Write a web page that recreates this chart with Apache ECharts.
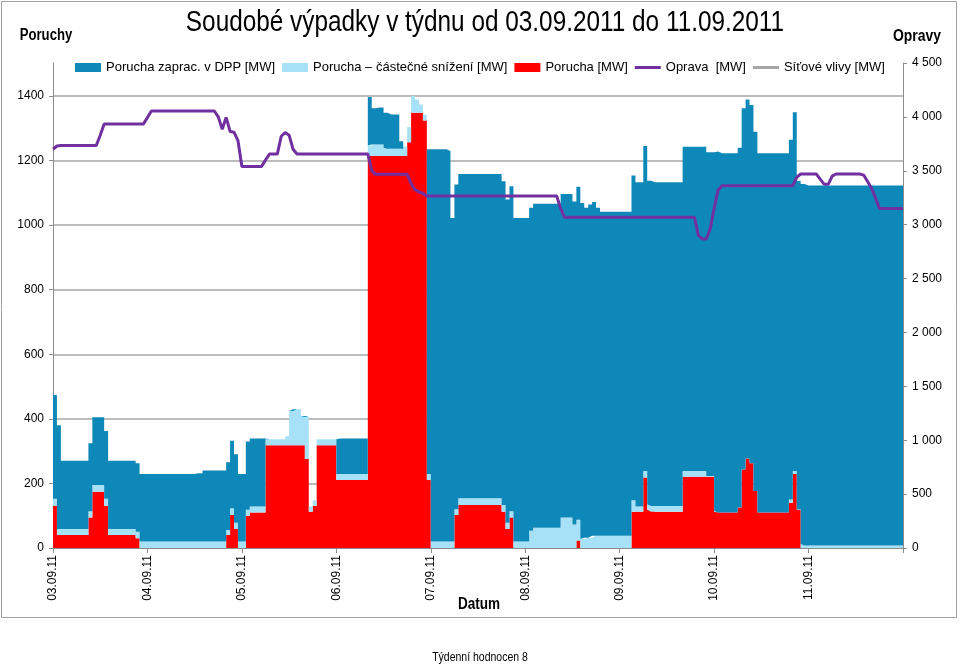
<!DOCTYPE html>
<html>
<head>
<meta charset="utf-8">
<script src="https://cdn.jsdelivr.net/npm/echarts@6/dist/echarts.min.js"></script>
<style>html,body{margin:0;padding:0;background:#fff}#c{width:960px;height:664px}</style>
</head>
<body>
<div id="c"></div>
<script>
// Tick labels (one per day)
const dayLabels = ['03.09.11','04.09.11','05.09.11','06.09.11','07.09.11','08.09.11','09.09.11','10.09.11','11.09.11'];

// Hourly values [MW], 9 days x 24 hours
const porucha = [ // red
131,40,40,40,40,40,40,40,40,94,174,174,174,131,40,40,40,40,40,40,40,30,0,0,
0,0,0,0,0,0,0,0,0,0,0,0,0,0,0,0,0,0,0,0,40,102,59,0,
0,100,110,110,110,110,318,318,318,318,318,318,318,318,318,318,275,112,130,318,318,318,318,318,
210,210,210,210,210,210,210,210,1212,1212,1212,1212,1212,1212,1212,1212,1212,1212,1255,1346,1346,1346,1322,210,
0,0,0,0,0,0,102,133,133,133,133,133,133,133,133,133,133,133,112,59,94,0,0,0,
0,0,0,0,0,0,0,0,0,0,0,0,0,23,0,0,0,0,0,0,0,0,0,0,
0,0,0,112,112,112,218,118,112,112,112,112,112,112,112,112,220,220,220,220,220,220,220,220,
112,110,110,110,110,110,125,243,277,262,176,110,110,110,110,110,110,110,110,140,229,118,0,0,
0,0,0,0,0,0,0,0,0,0,0,0,0,0,0,0,0,0,0,0,0,0,0,0
];
const castecne = [ // light blue
21,19,19,19,19,19,19,19,19,20,21,21,21,21,19,19,19,19,19,19,19,20,20,20,
20,20,20,20,20,20,20,20,20,20,20,20,20,20,20,20,20,20,20,20,16,21,19,20,
20,18,18,18,18,18,18,18,18,18,18,28,106,111,111,90,130,16,18,18,18,18,18,18,
19,19,19,19,19,19,19,19,33,36,36,36,26,23,23,23,23,30,47,52,41,26,18,19,
20,20,20,20,20,20,18,21,21,21,21,21,21,21,21,21,21,21,21,19,20,20,20,20,
20,53,63,63,63,63,63,63,63,94,94,94,73,64,28,32,32,38,38,38,38,38,38,38,
38,38,38,36,16,16,20,17,18,18,18,18,18,18,18,18,18,18,18,18,18,18,3,3,
3,0,0,0,0,0,0,0,0,0,0,0,0,0,0,0,0,0,0,10,9,2,12,8,
8,8,8,8,8,8,8,8,8,8,8,8,8,8,8,8,8,8,8,8,8,8,8,8
];
const zaprac = [ // dark blue
321,321,211,211,211,211,211,211,211,210,209,209,209,210,211,211,211,211,211,211,211,212,209,209,
209,209,209,209,209,209,209,209,209,209,209,209,211,211,220,220,220,220,220,220,209,209,212,209,
209,211,211,211,211,211,0,0,0,0,0,0,0,0,0,0,0,0,0,0,0,0,0,0,
110,110,110,110,110,110,110,110,150,112,114,114,108,106,106,106,23,0,0,0,0,0,0,1004,
1213,1213,1213,1213,1208,1001,1004,1003,1003,1003,1003,1003,1003,1003,1003,1003,1003,1003,1001,1000,1005,1001,1001,1001,
1001,999,1002,1002,1002,1002,1002,1002,1002,1001,1001,1001,999,1030,1039,1020,1030,1032,1014,1002,1002,1002,1002,1002,
1002,1002,1002,1004,1003,1003,1005,1001,1001,1001,1001,1001,1001,1001,1001,1001,1003,1003,1003,1003,1003,1003,1001,1001,
1111,1111,1111,1111,1111,1111,1113,1117,1110,1108,1111,1111,1111,1111,1111,1111,1111,1111,1111,1113,1110,1015,1114,1113,
1113,1113,1113,1113,1113,1113,1113,1113,1113,1113,1113,1113,1113,1113,1113,1113,1113,1113,1113,1113,1113,1113,1113,1113
];
const sitove = [];
// Oprava (right axis), values at each hour mark 0..216
const oprava = [
3700,3730,3735,3735,3735,3735,3735,3735,3735,3735,3735,3735,3830,3935,3935,3935,3935,3935,3935,3935,3935,3935,3935,3935,
3995,4055,4055,4055,4055,4055,4055,4055,4055,4055,4055,4055,4055,4055,4055,4055,4055,4055,4000,3885,3995,3865,3858,3780,
3540,3540,3540,3540,3540,3540,3600,3655,3655,3655,3820,3855,3830,3700,3656,3656,3656,3656,3656,3656,3656,3656,3656,3656,
3656,3656,3656,3656,3656,3656,3656,3656,3656,3500,3467,3467,3467,3467,3467,3467,3467,3467,3467,3380,3322,3305,3290,3266,
3266,3266,3266,3266,3266,3266,3266,3266,3266,3266,3266,3266,3266,3266,3266,3266,3266,3266,3266,3266,3266,3266,3266,3266,
3266,3266,3266,3266,3266,3266,3266,3266,3266,3150,3068,3068,3068,3068,3068,3068,3068,3068,3068,3068,3068,3068,3068,3068,
3068,3068,3068,3068,3068,3068,3068,3068,3068,3068,3068,3068,3068,3068,3068,3068,3068,3068,3068,3068,2900,2867,2867,2960,
3150,3320,3362,3362,3362,3362,3362,3362,3362,3362,3362,3362,3362,3362,3362,3362,3362,3362,3362,3362,3362,3440,3470,3470,
3470,3470,3470,3420,3374,3374,3450,3470,3470,3470,3470,3470,3470,3470,3460,3400,3337,3250,3151,3151,3151,3151,3151,3151,
3151
];

const FONT = "'Liberation Sans', Arial, sans-serif";
const NARROW = 0.82; // horizontal squeeze to imitate a narrow face
const N = oprava.length; // 217 hour marks
const cats = [];
for (let i = 0; i < N; i++) cats.push(String(i));
const withEnd = a => a.concat([a[a.length - 1]]);

const chart = echarts.init(document.getElementById('c'));
const fmtThousands = v => v >= 1000 ? String(Math.floor(v / 1000)) + ' ' + String(v % 1000).padStart(3, '0') : String(v);
const lineIcon = 'path://M0,0 M26,9 M0,3 L26,3 L26,6 L0,6 Z';

const areaSeries = (name, data, color) => ({
  name, type: 'line', stack: 'poruchy', step: 'end', data: withEnd(data),
  xAxisIndex: 0, yAxisIndex: 0, symbol: 'none',
  lineStyle: { width: 0 }, itemStyle: { color }, areaStyle: { color, opacity: 1 }
});

const label = (text, x, y, font) => ({
  type: 'text', x, y, scaleX: NARROW, silent: true,
  style: { text, font, fill: '#000', align: 'center', verticalAlign: 'middle' }
});

chart.setOption({
  animation: false,
  backgroundColor: '#ffffff',
  textStyle: { fontFamily: FONT },
  legend: {
    left: 75, top: 61, padding: 0, itemWidth: 26, itemHeight: 9, itemGap: 7,
    textStyle: { fontFamily: FONT, fontSize: 13, color: '#000' },
    data: [
      { name: 'Porucha zaprac. v DPP [MW]', icon: 'rect' },
      { name: 'Porucha – částečné snížení [MW]', icon: 'rect' },
      { name: 'Porucha [MW]', icon: 'rect' },
      { name: 'Oprava  [MW]', icon: lineIcon },
      { name: 'Síťové vlivy [MW]', icon: lineIcon }
    ]
  },
  grid: [
    { left: 53, right: 57, top: 63, bottom: 116 },
    { left: 53, right: 57, top: 96, bottom: 116 }
  ],
  xAxis: [
    {
      type: 'category', gridIndex: 0, data: cats, boundaryGap: false,
      axisLine: { lineStyle: { color: '#8c8c8c', width: 1 } },
      axisTick: { interval: i => i % 24 === 0, length: 5, lineStyle: { color: '#8c8c8c' } },
      axisLabel: {
        interval: i => i % 24 === 0 && i < 216, rotate: 90, margin: 7,
        formatter: (v, i) => dayLabels[i / 24], fontFamily: FONT, fontSize: 12, color: '#000'
      }
    },
    { type: 'category', gridIndex: 1, data: cats, boundaryGap: false, show: false }
  ],
  yAxis: [
    {
      type: 'value', gridIndex: 0, min: 0, max: 1500,
      axisLine: { show: true, lineStyle: { color: '#8c8c8c' } },
      axisTick: { show: false }, axisLabel: { show: false }, splitLine: { show: false }
    },
    {
      type: 'value', gridIndex: 0, position: 'right', min: 0, max: 4500, interval: 500,
      axisLine: { show: true, lineStyle: { color: '#8c8c8c' } },
      axisTick: { show: true, length: 4, lineStyle: { color: '#8c8c8c' } },
      axisLabel: { formatter: fmtThousands, fontFamily: FONT, fontSize: 12, color: '#000', margin: 9 },
      splitLine: { show: false }
    },
    {
      type: 'value', gridIndex: 1, min: 0, max: 1400, interval: 200,
      axisLine: { show: false },
      axisTick: { show: true, length: 4, lineStyle: { color: '#8c8c8c' } },
      axisLabel: { formatter: v => String(v), fontFamily: FONT, fontSize: 12, color: '#000', margin: 9 },
      splitLine: { show: true, lineStyle: { color: '#a6a6a6', width: 1.5 } }
    }
  ],
  graphic: [
    { type: 'rect', silent: true, z: -10, shape: { x: 1.5, y: 1.5, width: 955, height: 616 }, style: { fill: null, stroke: '#a0a0a0', lineWidth: 1 } },
    label('Soudobé výpadky v týdnu od 03.09.2011 do 11.09.2011', 485, 23, '29.7px ' + FONT),
    label('Poruchy', 46, 36, 'bold 16px ' + FONT),
    label('Opravy', 917, 36, 'bold 17px ' + FONT),
    label('Datum', 479, 604, 'bold 16.5px ' + FONT),
    label('Týdenní hodnocen 8', 480, 657, '12.8px ' + FONT)
  ],
  series: [
    areaSeries('Porucha [MW]', porucha, '#ff0000'),
    areaSeries('Porucha – částečné snížení [MW]', castecne, '#a6e1f7'),
    areaSeries('Porucha zaprac. v DPP [MW]', zaprac, '#0e88b8'),
    {
      name: 'Oprava  [MW]', type: 'line', data: oprava, xAxisIndex: 0, yAxisIndex: 1,
      symbol: 'none', lineStyle: { color: '#7030a0', width: 3 }, itemStyle: { color: '#7030a0' }, z: 5
    },
    {
      name: 'Síťové vlivy [MW]', type: 'line', data: sitove, xAxisIndex: 0, yAxisIndex: 0,
      symbol: 'none', lineStyle: { color: '#a6a6a6', width: 3 }, itemStyle: { color: '#a6a6a6' }
    }
  ]
});
</script>
</body>
</html>
